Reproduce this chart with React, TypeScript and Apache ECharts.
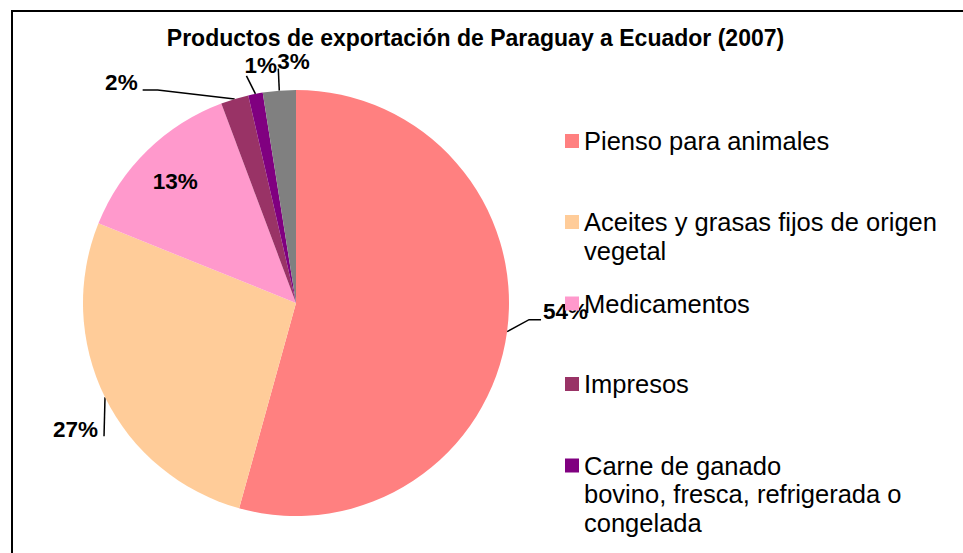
import React, { useEffect, useRef } from "react";
import * as echarts from "echarts";

// ---- data ----
const categories = [
  "Pienso para animales",
  "Aceites y grasas fijos de origen vegetal",
  "Medicamentos",
  "Impresos",
  "Carne de ganado bovino, fresca, refrigerada o congelada",
  "Otros",
];
const shares = [54.3, 26.8, 13.2, 2.1, 1.1, 2.5];
const legendLabels = [
  "Pienso para animales",
  "Aceites y grasas fijos de origen\nvegetal",
  "Medicamentos",
  "Impresos",
  "Carne de ganado\nbovino, fresca, refrigerada o\ncongelada",
];
const titleText = "Productos de exportación de Paraguay a Ecuador (2007)";

// ---- styles / layout ----
const colors = ["#FF8080", "#FFCC99", "#FF99CC", "#993366", "#800080", "#808080"];
const FONT = "'Liberation Sans', Arial, Helvetica, sans-serif";
const CX = 296;
const CY = 303;
const R = 213;
const legendIconCenters = [141, 222, 303.5, 384, 465.5];
const LH = 28.5;

type Spec = { line: number[][]; pos: number[]; align: string } | null;
const labelSpecs: Spec[] = [
  { line: [[22, -12], [34, -12]], pos: [36, -20], align: "left" },
  { line: [[-1, 39]], pos: [-7, 32], align: "right" },
  null,
  { line: [[-77, -9], [-92, -9]], pos: [-97, -17], align: "right" },
  { line: [[-9, -18]], pos: [-11, -28], align: "left" },
  { line: [[-1, -22]], pos: [-2, -29], align: "left" },
];

export default function App() {
  const ref = useRef<HTMLDivElement>(null);

  useEffect(() => {
    if (!ref.current) return;
    const chart = echarts.init(ref.current, undefined, { renderer: "svg" });

    const legends = legendLabels.map((lbl, i) => {
      const n = lbl.split("\n").length;
      const h = Math.max(14, (2 * n - 1) * LH);
      const shown = "\n".repeat(n - 1) + lbl;
      return {
        data: [categories[i]],
        left: 565,
        top: legendIconCenters[i] - h / 2,
        padding: 0,
        itemWidth: 14,
        itemHeight: 14,
        itemGap: 0,
        icon: "rect",
        selectedMode: false,
        formatter: () => shown,
        textStyle: {
          fontFamily: FONT,
          fontSize: 25.5,
          color: "#000",
          lineHeight: LH,
        },
      };
    });

    chart.setOption({
      animation: false,
      backgroundColor: "#fff",
      title: {
        text: titleText,
        left: 475.5,
        textAlign: "center",
        top: 26,
        padding: 0,
        textStyle: {
          fontFamily: FONT,
          fontSize: 23,
          fontWeight: "bold",
          color: "#000",
        },
      },
      legend: legends,
      graphic: [
        {
          type: "rect",
          shape: { x: 12, y: 11, width: 1000, height: 600 },
          style: { fill: "none", stroke: "#000", lineWidth: 2 },
          silent: true,
          z: 10,
        },
      ],
      series: [
        {
          type: "pie",
          center: [CX, CY],
          radius: R,
          startAngle: 90,
          clockwise: true,
          avoidLabelOverlap: false,
          label: {
            show: true,
            position: "outside",
            formatter: (p: any) => Math.round(p.percent) + "%",
            fontFamily: FONT,
            fontSize: 22.5,
            fontWeight: "bold",
            color: "#000",
          },
          labelLine: {
            show: true,
            length: 15,
            length2: 10,
            smooth: false,
            lineStyle: { color: "#000", width: 1.5 },
          },
          labelLayout: (params: any) => {
            const i = params.dataIndex;
            const s = labelSpecs[i];
            if (!s) {
              const r = params.labelRect;
              const lx = r.x + r.width / 2;
              const ly = r.y + r.height / 2;
              return { x: CX + (lx - CX) * 1.58, y: CY + (ly - CY) * 1.55 };
            }
            const pts = params.labelLinePoints;
            if (!pts) return {};
            const a = pts[0];
            return {
              x: a[0] + s.pos[0],
              y: a[1] + s.pos[1],
              align: s.align,
              verticalAlign: "middle",
              labelLinePoints: [a, ...s.line.map((d) => [a[0] + d[0], a[1] + d[1]])],
            };
          },
          data: categories.map((name, i) => ({
            name,
            value: shares[i],
            itemStyle: { color: colors[i] },
            ...(i === 2
              ? { label: { position: "inside" }, labelLine: { show: false } }
              : {}),
          })),
        },
      ],
    });

    return () => chart.dispose();
  }, []);

  return (
    <div
      ref={ref}
      style={{ position: "absolute", left: 0, top: 0, width: 963, height: 553 }}
    />
  );
}
